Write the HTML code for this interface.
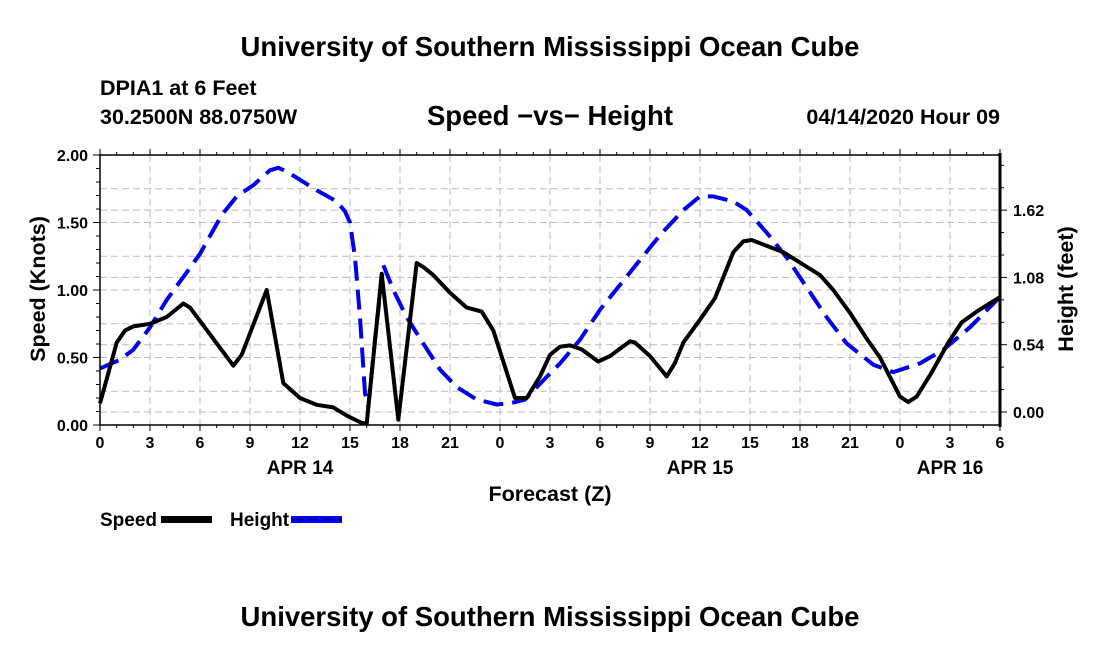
<!DOCTYPE html>
<html><head><meta charset="utf-8"><style>
body{margin:0;background:#fff;}
svg text{font-family:"Liberation Sans",sans-serif;font-weight:bold;fill:#000;}
</style></head><body>
<svg id="c" width="1100" height="650" viewBox="0 0 1100 650" xmlns="http://www.w3.org/2000/svg">
<rect width="1100" height="650" fill="#fff"/>
<text x="550" y="56" font-size="27.5" text-anchor="middle">University of Southern Mississippi Ocean Cube</text>
<text x="100" y="95" font-size="21.5">DPIA1 at 6 Feet</text>
<text x="100" y="124" font-size="21.5">30.2500N 88.0750W</text>
<text x="550" y="125" font-size="27.5" text-anchor="middle">Speed −vs− Height</text>
<text x="1000" y="124" font-size="21.5" text-anchor="end">04/14/2020 Hour 09</text>
<g id="grid"></g>
<g id="series"></g>
<g id="axes"></g>
<text x="550" y="501" font-size="21.5" text-anchor="middle">Forecast (Z)</text>
<text transform="translate(45,289) rotate(-90)" font-size="21.5" text-anchor="middle">Speed (Knots)</text>
<text transform="translate(1073,289) rotate(-90)" font-size="21.5" text-anchor="middle">Height (feet)</text>
<g>
<text x="100" y="526" font-size="19">Speed</text>
<rect x="161" y="516" width="51" height="7" fill="#000"/>
<text x="230" y="526" font-size="19">Height</text>
<rect x="291" y="516" width="51" height="7" fill="#0000ff"/>
<line x1="293" y1="519.5" x2="342" y2="519.5" stroke="#000060" stroke-width="1.5" stroke-dasharray="10 5"/>
</g>
<text x="550" y="626" font-size="27.5" text-anchor="middle">University of Southern Mississippi Ocean Cube</text>
</svg>
<script>
const speedHours=[0,1,1.5,2,3,4,5,5.4,8,8.5,10,11,12,13,14,14.8,15.7,16,16.9,17.9,19,19.4,20,21,22,22.9,23.6,24.9,25.6,26.4,27,27.6,28.2,28.9,29.9,30.6,31.8,32.1,33,34,34.5,35,36,36.9,38,38.6,39.1,41,43.2,44,45,46,46.8,48,48.5,49,49.9,50.9,51.7,52.6,53.9,54];
const speedValues=[0.16,0.61,0.70,0.73,0.75,0.80,0.90,0.87,0.44,0.52,1.00,0.31,0.20,0.15,0.13,0.07,0.015,0.01,1.12,0.04,1.20,1.17,1.11,0.98,0.87,0.84,0.70,0.20,0.20,0.36,0.52,0.58,0.59,0.56,0.47,0.51,0.62,0.61,0.51,0.36,0.46,0.61,0.78,0.94,1.28,1.36,1.37,1.28,1.11,1.00,0.83,0.64,0.50,0.21,0.17,0.21,0.39,0.61,0.76,0.84,0.94,0.94];
const heightHours=[0,1.2,2,3,4,5.2,6,7.3,8.2,9.2,10.2,10.7,11.2,13,14.2,14.7,15,15.3,15.6,15.9,16.1,16.5,17,17.6,18.4,19.4,20.4,21.4,22.6,23.8,24.6,25.5,27,27.6,28.8,30,31.2,32.4,33.6,35,36,36.8,38,38.8,40,41.2,42.4,43.6,44.8,46.4,47.6,49.2,50.6,52.2,53.9,54];
const heightValues=[0.35,0.42,0.50,0.68,0.90,1.12,1.27,1.58,1.73,1.82,1.94,1.96,1.93,1.78,1.69,1.61,1.52,1.24,0.76,0.15,0.04,0.58,1.18,0.98,0.76,0.55,0.34,0.20,0.10,0.06,0.07,0.10,0.31,0.39,0.58,0.82,1.02,1.22,1.42,1.62,1.73,1.73,1.69,1.62,1.44,1.24,1.00,0.76,0.55,0.38,0.32,0.39,0.50,0.68,0.91,0.93];
const xTickLabels=["0","3","6","9","12","15","18","21","0","3","6","9","12","15","18","21","0","3","6"];
const dayLabels=["APR 14","APR 15","APR 16"];
const dayHours=[12,36,51];
const speedTicks=[0,0.5,1,1.5,2];
const heightTicks=[0,0.54,1.08,1.62];

const NS="http://www.w3.org/2000/svg";
const X0=100,X1=1000,Y0=425,Y1=155;
const xs=h=>X0+h*(X1-X0)/54;
const ys=s=>Y0-s*(Y0-Y1)/2;
const yh=f=>412-f*124.6;
function mk(tag,attrs,parent){const e=document.createElementNS(NS,tag);for(const k in attrs)e.setAttribute(k,attrs[k]);document.getElementById(parent).appendChild(e);return e;}

for(let i=1;i<18;i++){const l=mk('line',{x1:xs(i*3),x2:xs(i*3),y1:Y1,y2:Y0,stroke:'#bbb','stroke-width':1,'stroke-dasharray':'7 4'},'grid');

}
for(let s=0.25;s<2;s+=0.25){const l=mk('line',{x1:X0,x2:X1,y1:ys(s),y2:ys(s),stroke:'#bbb','stroke-width':1,'stroke-dasharray':'7 4'},'grid');

}
heightTicks.forEach(f=>{const l=mk('line',{x1:X0,x2:X1,y1:yh(f),y2:yh(f),stroke:'#bbb','stroke-width':1,'stroke-dasharray':'7 4'},'grid');

});

function path(hours,vals,scale){return hours.map((h,i)=>(i?'L':'M')+xs(h).toFixed(1)+','+scale(vals[i]).toFixed(1)).join('');}
const hp=mk('path',{d:path(heightHours,heightValues,yh),fill:'none',stroke:'#0000ee','stroke-width':4,'stroke-dasharray':'20 9','stroke-linejoin':'round'},'series');


const sp=mk('path',{d:path(speedHours,speedValues,ys),fill:'none',stroke:'#000','stroke-width':4,'stroke-linejoin':'round'},'series');



const fr=mk('rect',{x:X0,y:Y1,width:X1-X0,height:Y0-Y1,fill:'none',stroke:'#000','stroke-width':1.5},'axes');


const ra=mk('line',{x1:X1,x2:X1,y1:Y1-2,y2:Y0+2,stroke:'#000','stroke-width':3},'axes');


for(let h=0;h<=54;h++){const big=h%3===0;
const t=mk('line',{x1:xs(h),x2:xs(h),y1:Y0,y2:Y0+(big?6:3),stroke:'#000','stroke-width':1},'axes');


const t2=mk('line',{x1:xs(h),x2:xs(h),y1:Y1,y2:Y1-(big?6:3),stroke:'#000','stroke-width':1},'axes');

}
xTickLabels.forEach((lab,i)=>{const t=mk('text',{x:xs(i*3),y:Y0+23,'font-size':16,'text-anchor':'middle'},'axes');t.textContent=lab;

});
dayLabels.forEach((lab,i)=>{const t=mk('text',{x:xs(dayHours[i]),y:Y0+49,'font-size':19,'text-anchor':'middle'},'axes');t.textContent=lab;

});
for(let s=0;s<=20;s++){const v=s/10;const big=s%5===0;
const t=mk('line',{x1:X0,x2:X0-(big?7:4),y1:ys(v),y2:ys(v),stroke:'#000','stroke-width':1},'axes');

}
speedTicks.forEach(v=>{const t=mk('text',{x:X0-12,y:ys(v)+6,'font-size':16,'text-anchor':'end'},'axes');t.textContent=v.toFixed(2);

});
for(let f=0;f<=2.1;f+=0.18){const big=Math.abs(f/0.54-Math.round(f/0.54))<0.01;
const t=mk('line',{x1:X1,x2:X1+(big?7:4),y1:yh(f),y2:yh(f),stroke:'#000','stroke-width':1},'axes');

}
heightTicks.forEach(f=>{const t=mk('text',{x:X1+13,y:yh(f)+6,'font-size':16},'axes');t.textContent=f.toFixed(2);

});
</script>
</body></html>
